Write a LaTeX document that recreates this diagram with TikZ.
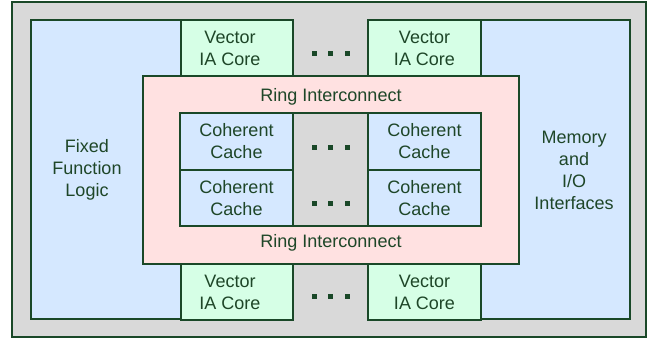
\documentclass[tikz,border=0pt]{standalone}
\usepackage{fontspec}
\setmainfont{Liberation Sans}
\definecolor{edge}{RGB}{26,72,40}
\definecolor{txt}{RGB}{30,70,40}
\definecolor{bgray}{RGB}{217,217,217}
\definecolor{bblue}{RGB}{213,232,255}
\definecolor{bgreen}{RGB}{214,255,230}
\definecolor{bpink}{RGB}{255,225,225}
\tikzset{
  box/.style={draw=edge, line width=2.2pt, anchor=north west, inner sep=0pt, outer sep=0pt, rectangle},
  lbl/.style={text=txt, font=\fontsize{18}{22}\selectfont, align=center, inner sep=0pt},
  dot/.style={fill=edge, minimum size=5pt, inner sep=0pt, rectangle},
}
\begin{document}
\begin{tikzpicture}[x=1pt,y=-1pt]
\useasboundingbox (0,0) rectangle (652,341);
\node[box, fill=bgray, line width=2pt, minimum width=634, minimum height=335] (outer) at (12,1.5) {};
% side blocks
\node[box, fill=bblue, minimum width=150, minimum height=299] (ffl) at (31,20) {};
\node[box, fill=bblue, minimum width=149, minimum height=299] (mio) at (481,20) {};
% vector cores
\node[box, fill=bgreen, minimum width=112, minimum height=56] (vtl) at (181,20) {};
\node[box, fill=bgreen, minimum width=113, minimum height=56] (vtr) at (368,20) {};
\node[box, fill=bgreen, minimum width=112, minimum height=56] (vbl) at (181,264) {};
\node[box, fill=bgreen, minimum width=113, minimum height=56] (vbr) at (368,264) {};
% ring
\node[box, fill=bpink, minimum width=376, minimum height=188] (ring) at (143,76) {};
% caches
\node[box, fill=bblue, minimum width=113, minimum height=57] (c1) at (180,113) {};
\node[box, fill=bblue, minimum width=113, minimum height=56] (c2) at (180,170) {};
\node[box, fill=bgray, minimum width=75, minimum height=113] (cmid) at (293,113) {};
\node[box, fill=bblue, minimum width=113, minimum height=57] (c3) at (368,113) {};
\node[box, fill=bblue, minimum width=113, minimum height=56] (c4) at (368,170) {};
% labels
\node[lbl] (tffl) at (87,170) {Fixed\\Function\\Logic};
\node[lbl] (tmio) at (574,170) {Memory\\and\\I/O\\Interfaces};
\node[lbl] (tvtl) at (230,48) {Vector\\IA Core};
\node[lbl] (tvtr) at (vtr.center) {Vector\\IA Core};
\node[lbl] (tvbl) at (230,292) {Vector\\IA Core};
\node[lbl] (tvbr) at (vbr.center) {Vector\\IA Core};
\node[lbl] (rtop) at (331,97) {Ring Interconnect};
\node[lbl] (rbot) at (331,243) {Ring Interconnect};
\node[lbl] (tc1) at (c1.center) {Coherent\\Cache};
\node[lbl] (tc2) at (c2.center) {Coherent\\Cache};
\node[lbl] (tc3) at (c3.center) {Coherent\\Cache};
\node[lbl] (tc4) at (c4.center) {Coherent\\Cache};
% dots
\foreach \n/\cy in {dt/53, db/296, dc1/147, dc2/203}{
  \node[dot] (\n a) at (314,\cy) {};
  \node[dot] (\n b) at (330.5,\cy) {};
  \node[dot] (\n c) at (347,\cy) {};
}
\end{tikzpicture}
\end{document}
